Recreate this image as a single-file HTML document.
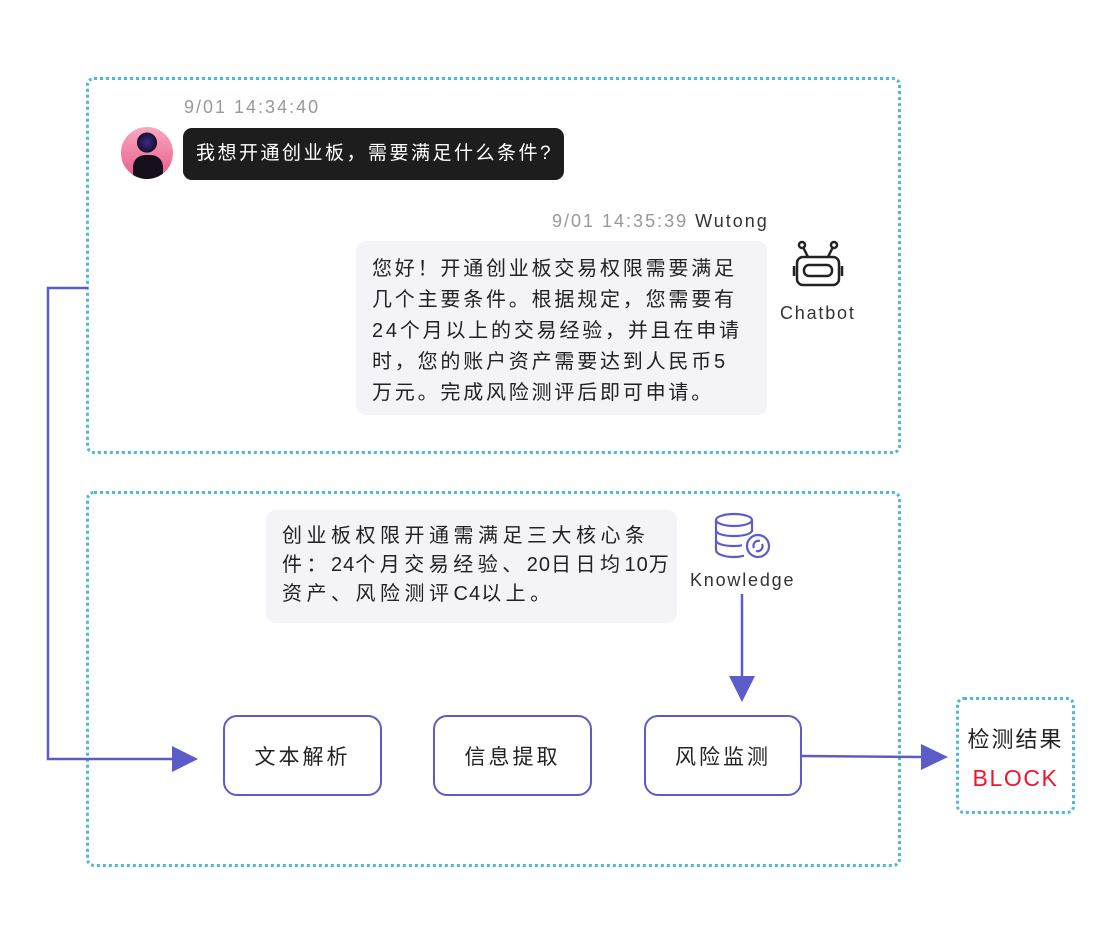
<!DOCTYPE html>
<html><head><meta charset="utf-8"><style>
body{margin:0;width:1113px;height:936px;background:#fff;position:relative;font-family:"Liberation Sans","Noto Sans CJK SC",sans-serif;overflow:hidden}
.a{position:absolute;white-space:nowrap}
.dot{position:absolute;border:3px dotted #4fb8d2;border-radius:8px;box-sizing:border-box}
.box{position:absolute;border:2.5px solid #5c5cc9;border-radius:14px;box-sizing:border-box;display:flex;align-items:center;justify-content:center;font-size:21px;color:#222;letter-spacing:3px}
.bub{position:absolute;background:#f4f4f8;border-radius:10px;color:#222;box-sizing:border-box;white-space:nowrap}
.n{letter-spacing:1px}
</style></head><body>
<div class="dot" style="left:86px;top:77px;width:815px;height:377px"></div>
<div class="dot" style="left:86px;top:491px;width:815px;height:376px"></div>
<div class="dot" style="left:956px;top:697px;width:119px;height:117px"></div>

<div class="a" style="left:121px;top:127px;width:52px;height:52px;border-radius:50%;background:radial-gradient(circle at 50% 30%,#3a2a8a 0,#1a1030 22%,transparent 23%),linear-gradient(#f7a9c0,#ee5a8a);overflow:hidden"><div class="a" style="left:12px;top:28px;width:30px;height:30px;border-radius:40% 40% 0 0;background:#15101c"></div></div>
<div class="a" style="left:184px;top:97px;font-size:18px;letter-spacing:2px;color:#999">9/01 14:34:40</div>
<div class="a" style="left:183px;top:128px;width:381px;height:52px;background:#1d1d1d;border-radius:9px;color:#fff;font-size:19px;letter-spacing:2.5px;line-height:52px;padding-left:13px;box-sizing:border-box">我想开通创业板，需要满足什么条件?</div>

<div class="a" style="left:552px;top:211px;font-size:18px;letter-spacing:2px;color:#999">9/01 14:35:39 <span style="color:#333">Wutong</span></div>
<div class="bub" style="left:356px;top:241px;width:411px;height:174px;padding:13px 16px;font-size:20px;letter-spacing:2.8px;line-height:31px">您好！开通创业板交易权限需要满足<br>几个主要条件。根据规定，您需要有<br>24个月以上的交易经验，并且在申请<br>时，您的账户资产需要达到人民币5<br>万元。完成风险测评后即可申请。</div>
<svg class="a" style="left:792px;top:240px" width="54" height="50" viewBox="0 0 54 50" fill="none" stroke="#222" stroke-width="2.5">
<rect x="5" y="17" width="42" height="28" rx="6"/><rect x="12" y="25" width="28" height="11" rx="5"/>
<line x1="16" y1="17" x2="11" y2="7"/><line x1="36" y1="17" x2="41" y2="7"/><circle cx="10" cy="5" r="3"/><circle cx="42" cy="5" r="3"/>
<line x1="2" y1="26" x2="2" y2="36"/><line x1="50" y1="26" x2="50" y2="36"/></svg>
<div class="a" style="left:780px;top:303px;font-size:18px;letter-spacing:1.8px;color:#333">Chatbot</div>

<div class="bub" style="left:266px;top:510px;width:411px;height:113px;padding:12px 16px;font-size:20px;letter-spacing:4.5px;line-height:29px">创业板权限开通需满足三大核心条<br>件：<span class="n">24</span>个月交易经验、<span class="n">20</span>日日均<span class="n">10</span>万<br>资产、风险测评<span class="n">C4</span>以上。</div>
<svg class="a" style="left:712px;top:512px" width="62" height="50" viewBox="0 0 62 50" fill="none" stroke="#5c5cc9" stroke-width="2.2">
<ellipse cx="22" cy="8" rx="18" ry="6"/><path d="M4 8v30c0 4 8 7 18 7 4 0 7-0.5 10-1.3M40 8v12M4 18c0 4 8 6 18 6s18-2 18-6M4 28c0 4 8 6 18 6 3 0 6-0.3 8-0.8"/>
<circle cx="46" cy="34" r="11"/><path d="M42 36a5 5 0 0 1 6-7M50 32a5 5 0 0 1-6 7"/></svg>
<div class="a" style="left:690px;top:570px;font-size:18px;letter-spacing:1.8px;color:#333">Knowledge</div>

<div class="box" style="left:223px;top:715px;width:159px;height:81px">文本解析</div>
<div class="box" style="left:433px;top:715px;width:159px;height:81px">信息提取</div>
<div class="box" style="left:644px;top:715px;width:158px;height:81px">风险监测</div>
<div class="a" style="left:957px;top:722px;width:117px;text-align:center;font-size:22px;letter-spacing:2px;color:#222">检测结果</div>
<div class="a" style="left:957px;top:765px;width:117px;text-align:center;font-size:23px;letter-spacing:1.6px;color:#f0142d">BLOCK</div>

<svg class="a" style="left:0;top:0" width="1113" height="936" fill="none">
<polyline points="88,288 48,288 48,759 175,759" stroke="#5c5cc9" stroke-width="2.5"/>
<polygon points="172,746 198,759 172,772" fill="#5c5cc9"/>
<line x1="742" y1="594" x2="742" y2="678" stroke="#5c5cc9" stroke-width="2.5"/>
<polygon points="729,676 755,676 742,702" fill="#5c5cc9"/>
<line x1="802" y1="756" x2="924" y2="757" stroke="#5c5cc9" stroke-width="2.5"/>
<polygon points="921,744 948,757 921,770" fill="#5c5cc9"/>
</svg>
</body></html>
